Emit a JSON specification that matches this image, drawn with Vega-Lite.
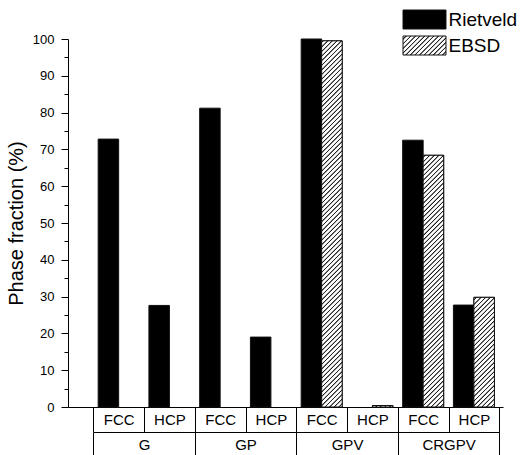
{
"$schema":"https://vega.github.io/schema/vega-lite/v6.json",
"width":435,"height":368,
"autosize":"none",
"padding":{"left":68,"top":39,"right":19,"bottom":48},
"config":{"font":"Liberation Sans","view":{"stroke":null},"axis":{"domainColor":"#000","tickColor":"#000","labelColor":"#000","titleColor":"#000","grid":false}},
"params":[{"name":"hatchStops","value":[
{"offset":0.02,"color":"#fff"},{"offset":0.026,"color":"#222"},{"offset":0.032,"color":"#222"},{"offset":0.038,"color":"#fff"},
{"offset":0.06,"color":"#fff"},{"offset":0.066,"color":"#222"},{"offset":0.072,"color":"#222"},{"offset":0.078,"color":"#fff"},
{"offset":0.10,"color":"#fff"},{"offset":0.106,"color":"#222"},{"offset":0.112,"color":"#222"},{"offset":0.118,"color":"#fff"},
{"offset":0.14,"color":"#fff"},{"offset":0.146,"color":"#222"},{"offset":0.152,"color":"#222"},{"offset":0.158,"color":"#fff"},
{"offset":0.18,"color":"#fff"},{"offset":0.186,"color":"#222"},{"offset":0.192,"color":"#222"},{"offset":0.198,"color":"#fff"},
{"offset":0.22,"color":"#fff"},{"offset":0.226,"color":"#222"},{"offset":0.232,"color":"#222"},{"offset":0.238,"color":"#fff"},
{"offset":0.26,"color":"#fff"},{"offset":0.266,"color":"#222"},{"offset":0.272,"color":"#222"},{"offset":0.278,"color":"#fff"},
{"offset":0.30,"color":"#fff"},{"offset":0.306,"color":"#222"},{"offset":0.312,"color":"#222"},{"offset":0.318,"color":"#fff"},
{"offset":0.34,"color":"#fff"},{"offset":0.346,"color":"#222"},{"offset":0.352,"color":"#222"},{"offset":0.358,"color":"#fff"},
{"offset":0.38,"color":"#fff"},{"offset":0.386,"color":"#222"},{"offset":0.392,"color":"#222"},{"offset":0.398,"color":"#fff"},
{"offset":0.42,"color":"#fff"},{"offset":0.426,"color":"#222"},{"offset":0.432,"color":"#222"},{"offset":0.438,"color":"#fff"},
{"offset":0.46,"color":"#fff"},{"offset":0.466,"color":"#222"},{"offset":0.472,"color":"#222"},{"offset":0.478,"color":"#fff"},
{"offset":0.50,"color":"#fff"},{"offset":0.506,"color":"#222"},{"offset":0.512,"color":"#222"},{"offset":0.518,"color":"#fff"},
{"offset":0.54,"color":"#fff"},{"offset":0.546,"color":"#222"},{"offset":0.552,"color":"#222"},{"offset":0.558,"color":"#fff"},
{"offset":0.58,"color":"#fff"},{"offset":0.586,"color":"#222"},{"offset":0.592,"color":"#222"},{"offset":0.598,"color":"#fff"},
{"offset":0.62,"color":"#fff"},{"offset":0.626,"color":"#222"},{"offset":0.632,"color":"#222"},{"offset":0.638,"color":"#fff"},
{"offset":0.66,"color":"#fff"},{"offset":0.666,"color":"#222"},{"offset":0.672,"color":"#222"},{"offset":0.678,"color":"#fff"},
{"offset":0.70,"color":"#fff"},{"offset":0.706,"color":"#222"},{"offset":0.712,"color":"#222"},{"offset":0.718,"color":"#fff"},
{"offset":0.74,"color":"#fff"},{"offset":0.746,"color":"#222"},{"offset":0.752,"color":"#222"},{"offset":0.758,"color":"#fff"},
{"offset":0.78,"color":"#fff"},{"offset":0.786,"color":"#222"},{"offset":0.792,"color":"#222"},{"offset":0.798,"color":"#fff"},
{"offset":0.82,"color":"#fff"},{"offset":0.826,"color":"#222"},{"offset":0.832,"color":"#222"},{"offset":0.838,"color":"#fff"},
{"offset":0.86,"color":"#fff"},{"offset":0.866,"color":"#222"},{"offset":0.872,"color":"#222"},{"offset":0.878,"color":"#fff"},
{"offset":0.90,"color":"#fff"},{"offset":0.906,"color":"#222"},{"offset":0.912,"color":"#222"},{"offset":0.918,"color":"#fff"},
{"offset":0.94,"color":"#fff"},{"offset":0.946,"color":"#222"},{"offset":0.952,"color":"#222"},{"offset":0.958,"color":"#fff"},
{"offset":0.98,"color":"#fff"},{"offset":0.986,"color":"#222"},{"offset":0.992,"color":"#222"},{"offset":0.998,"color":"#fff"}
]}],
"datasets":{
"bars":[
{"group":"G","phase":"FCC","key":"G|FCC","series":"Rietveld","value":72.8},
{"group":"G","phase":"HCP","key":"G|HCP","series":"Rietveld","value":27.6},
{"group":"GP","phase":"FCC","key":"GP|FCC","series":"Rietveld","value":81.2},
{"group":"GP","phase":"HCP","key":"GP|HCP","series":"Rietveld","value":19.0},
{"group":"GPV","phase":"FCC","key":"GPV|FCC","series":"Rietveld","value":100},
{"group":"GPV","phase":"FCC","key":"GPV|FCC","series":"EBSD","value":99.5},
{"group":"GPV","phase":"HCP","key":"GPV|HCP","series":"EBSD","value":0.4},
{"group":"CRGPV","phase":"FCC","key":"CRGPV|FCC","series":"Rietveld","value":72.5},
{"group":"CRGPV","phase":"FCC","key":"CRGPV|FCC","series":"EBSD","value":68.4},
{"group":"CRGPV","phase":"HCP","key":"CRGPV|HCP","series":"Rietveld","value":27.7},
{"group":"CRGPV","phase":"HCP","key":"CRGPV|HCP","series":"EBSD","value":29.8}
],
"groups":[{"group":"G"},{"group":"GP"},{"group":"GPV"},{"group":"CRGPV"}]
},
"layer":[
{"data":{"name":"bars"},
 "encoding":{
  "x":{"field":"key","type":"nominal","sort":null,
       "scale":{"type":"band","domain":["G|FCC","G|HCP","GP|FCC","GP|HCP","GPV|FCC","GPV|HCP","CRGPV|FCC","CRGPV|HCP"],"paddingInner":0,"paddingOuter":0.2857,"align":0.872},
       "axis":{"orient":"bottom","title":null,"domain":true,"domainWidth":1,"ticks":true,"tickBand":"extent","tickSize":25,"tickWidth":1,"labelExpr":"split(datum.label,'|')[1]","labelFontSize":15,"labelBaseline":"middle","labelPadding":-12.5,"labelAngle":0}},
  "xOffset":{"field":"series","type":"nominal","scale":{"domain":["Rietveld","EBSD"],"paddingInner":0,"paddingOuter":0.238}}
 },
 "layer":[
  {"mark":{"type":"bar","stroke":"#111","strokeWidth":1},
   "encoding":{
    "y":{"field":"value","type":"quantitative","scale":{"domain":[0,100],"nice":false},
         "axis":{"orient":"left","values":[0,10,20,30,40,50,60,70,80,90,100],"tickCount":11,"labelOverlap":false,"tickSize":7,"tickWidth":1,"labelFontSize":13,"labelPadding":7,"title":"Phase fraction (%)","titleFontSize":20,"titleFontWeight":"normal","titlePadding":6}},
    "fill":{"field":"series","type":"nominal",
         "scale":{"domain":["Rietveld","EBSD"],"range":["#000",{"expr":"{gradient: 'linear', x1: 0, y1: 0, x2: 2.2376, y2: 0.98869, stops: hatchStops}"}]},
         "legend":{"orient":"none","legendX":346.5,"legendY":-29.5,"title":null,"padding":0,
           "symbolType":"M-2.263,-1L2.263,-1L2.263,1L-2.263,1Z","symbolSize":361,"symbolStrokeWidth":1,"symbolStrokeColor":"#111",
           "labelFontSize":19,"labelOffset":14,"labelColor":"#000","rowPadding":2}}
   }},
  {"transform":[{"filter":"datum.series === 'EBSD' && datum.value >= 25"}],
   "mark":{"type":"bar","strokeWidth":0,"fill":{"expr":"{gradient: 'linear', x1: 0, y1: 0, x2: 0.26536, y2: 1.19087, stops: hatchStops}"}},
   "encoding":{"y":{"datum":25,"type":"quantitative"},"y2":{"datum":0}}},
  {"transform":[{"filter":"datum.series === 'EBSD' && datum.value < 25"}],
   "mark":{"type":"bar","strokeWidth":0,
     "fill":{"expr":"{gradient: 'linear', x1: 0, y1: -(25 - datum.value) / datum.value, x2: 2357.5 / (420.25 + pow(datum.value * 3.68, 2)), y2: -(25 - datum.value) / datum.value + 423.2 * datum.value / (420.25 + pow(datum.value * 3.68, 2)), stops: hatchStops}"}},
   "encoding":{"y":{"field":"value","type":"quantitative"},"y2":{"datum":0}}},
  {"transform":[{"filter":"datum.series === 'EBSD' && datum.value >= 50"}],
   "mark":{"type":"bar","strokeWidth":0,"fill":{"expr":"{gradient: 'linear', x1: 0, y1: 0, x2: 0.26536, y2: 1.19087, stops: hatchStops}"}},
   "encoding":{"y":{"datum":50,"type":"quantitative"},"y2":{"datum":25}}},
  {"transform":[{"filter":"datum.series === 'EBSD' && datum.value > 25 && datum.value < 50"}],
   "mark":{"type":"bar","strokeWidth":0,
     "fill":{"expr":"{gradient: 'linear', x1: 0, y1: -(50 - datum.value) / (datum.value - 25), x2: 2357.5 / (420.25 + pow((datum.value - 25) * 3.68, 2)), y2: -(50 - datum.value) / (datum.value - 25) + 423.2 * (datum.value - 25) / (420.25 + pow((datum.value - 25) * 3.68, 2)), stops: hatchStops}"}},
   "encoding":{"y":{"field":"value","type":"quantitative"},"y2":{"datum":25}}},
  {"transform":[{"filter":"datum.series === 'EBSD' && datum.value >= 75"}],
   "mark":{"type":"bar","strokeWidth":0,"fill":{"expr":"{gradient: 'linear', x1: 0, y1: 0, x2: 0.26536, y2: 1.19087, stops: hatchStops}"}},
   "encoding":{"y":{"datum":75,"type":"quantitative"},"y2":{"datum":50}}},
  {"transform":[{"filter":"datum.series === 'EBSD' && datum.value > 50 && datum.value < 75"}],
   "mark":{"type":"bar","strokeWidth":0,
     "fill":{"expr":"{gradient: 'linear', x1: 0, y1: -(75 - datum.value) / (datum.value - 50), x2: 2357.5 / (420.25 + pow((datum.value - 50) * 3.68, 2)), y2: -(75 - datum.value) / (datum.value - 50) + 423.2 * (datum.value - 50) / (420.25 + pow((datum.value - 50) * 3.68, 2)), stops: hatchStops}"}},
   "encoding":{"y":{"field":"value","type":"quantitative"},"y2":{"datum":50}}},
  {"transform":[{"filter":"datum.series === 'EBSD' && datum.value > 75"}],
   "mark":{"type":"bar","strokeWidth":0,
     "fill":{"expr":"{gradient: 'linear', x1: 0, y1: -(100 - datum.value) / (datum.value - 75), x2: 2357.5 / (420.25 + pow((datum.value - 75) * 3.68, 2)), y2: -(100 - datum.value) / (datum.value - 75) + 423.2 * (datum.value - 75) / (420.25 + pow((datum.value - 75) * 3.68, 2)), stops: hatchStops}"}},
   "encoding":{"y":{"field":"value","type":"quantitative"},"y2":{"datum":75}}},
  {"transform":[{"filter":"datum.series === 'EBSD'"}],
   "mark":{"type":"bar","fill":"#fff","fillOpacity":0,"stroke":"#111","strokeWidth":1},
   "encoding":{"y":{"field":"value","type":"quantitative"}}}
 ]},
{"data":{"name":"groups"},
 "mark":{"type":"point","opacity":0},
 "encoding":{
  "x":{"field":"group","type":"nominal","sort":null,
       "scale":{"type":"band","domain":["G","GP","GPV","CRGPV"],"range":[25.3,431.3],"paddingInner":0,"paddingOuter":0},
       "axis":{"orient":"bottom","offset":25,"title":null,"domain":true,"domainWidth":1,"tickBand":"extent","tickSize":23,"tickWidth":1,"labelFontSize":15,"labelBaseline":"middle","labelPadding":-10.5,"labelAngle":0}},
  "y":{"datum":0,"type":"quantitative",
       "axis":{"orient":"left","values":[5,15,25,35,45,55,65,75,85,95],"labels":false,"domain":false,"tickSize":4,"tickWidth":1,"title":null,"grid":false}}
 }}
],
"resolve":{"scale":{"x":"independent"},"axis":{"x":"independent","y":"independent"}}
}
